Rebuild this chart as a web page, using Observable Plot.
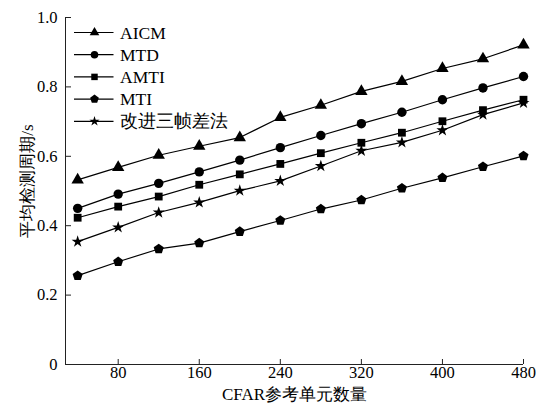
<!DOCTYPE html>
<html>
<head>
<meta charset="utf-8">
<script src="https://cdn.jsdelivr.net/npm/d3@7"></script>
<script src="https://cdn.jsdelivr.net/npm/@observablehq/plot@0.6"></script>
<style>
  html, body { margin: 0; padding: 0; background: #fff; }
  svg text { font-family: "Liberation Serif", "Times New Roman", serif; }
</style>
</head>
<body>
<div id="chart"></div>
<script>
// ---- data ----
const xValues = [40, 80, 120, 160, 200, 240, 280, 320, 360, 400, 440, 480];
const aicm     = [0.532, 0.568, 0.603, 0.629, 0.654, 0.712, 0.747, 0.787, 0.816, 0.853, 0.881, 0.921];
const mtd      = [0.450, 0.491, 0.522, 0.555, 0.589, 0.625, 0.660, 0.694, 0.727, 0.763, 0.797, 0.830];
const amti     = [0.423, 0.455, 0.484, 0.518, 0.548, 0.578, 0.609, 0.639, 0.668, 0.701, 0.733, 0.763];
const mti      = [0.256, 0.296, 0.333, 0.350, 0.383, 0.415, 0.448, 0.474, 0.508, 0.538, 0.570, 0.601];
const improved = [0.354, 0.395, 0.438, 0.467, 0.501, 0.529, 0.572, 0.616, 0.640, 0.675, 0.720, 0.754];
const seriesNames = ["AICM", "MTD", "AMTI", "MTI", "改进三帧差法"];
const xTicks = [80, 160, 240, 320, 400, 480];
const yTicks = [0, 0.2, 0.4, 0.6, 0.8, 1.0];
const xLabel = "CFAR参考单元数量";
const yLabel = "平均检测周期/s";

// custom pentagon symbol
const symbolPentagon = {
  draw(context, size) {
    const R = Math.sqrt(size / 2.3776);
    for (let k = 0; k < 5; k++) {
      const a = -Math.PI / 2 + k * 2 * Math.PI / 5;
      const px = R * Math.cos(a), py = R * Math.sin(a);
      if (k === 0) context.moveTo(px, py); else context.lineTo(px, py);
    }
    context.closePath();
  }
};

const series = [
  {name: seriesNames[0], values: aicm, symbol: d3.symbolTriangle, r: 4.6, lsize: 40},
  {name: seriesNames[1], values: mtd, symbol: d3.symbolCircle, r: 4.7, lsize: 45},
  {name: seriesNames[2], values: amti, symbol: d3.symbolSquare, r: 4.4, lsize: 42},
  {name: seriesNames[3], values: mti, symbol: symbolPentagon, r: 4.6, lsize: 50},
  {name: seriesNames[4], values: improved, symbol: d3.symbolStar, r: 3.8, lsize: 32}
];

const tables = series.map(s => xValues.map((x, i) => ({x, y: s.values[i], name: s.name})));

const fontFamily = "'Liberation Serif', 'Times New Roman', serif";

function legendMark(index, scales, values, dims) {
  const g = d3.create("svg:g");
  const x0 = 74, x1 = 113.5, xm = 94.5, xt = 120;
  const rowY = [32.5, 54.7, 76.9, 99.1, 121.3];
  series.forEach((s, i) => {
    const y = rowY[i];
    g.append("line").attr("x1", x0).attr("x2", x1).attr("y1", y).attr("y2", y)
      .attr("stroke", "#000").attr("stroke-width", 1.2);
    g.append("path").attr("transform", `translate(${xm},${y})`)
      .attr("d", d3.symbol().type(s.symbol).size(s.lsize)()).attr("fill", "#000");
    g.append("text").attr("x", xt).attr("y", y).attr("dy", "0.35em")
      .attr("text-anchor", "start")
      .attr("font-size", 17.5).attr("fill", "#000")
      .text(s.name);
  });
  return g.node();
}

const marks = [];
marks.push(Plot.ruleX([28], {stroke: "#222", strokeWidth: 1}));
marks.push(Plot.ruleY([0], {stroke: "#222", strokeWidth: 1}));
marks.push(Plot.axisX({ticks: xTicks, tickSize: -5, tickPadding: 7, label: null, stroke: "#222", fontSize: 16.5}));
marks.push(Plot.axisY({ticks: yTicks, tickSize: -6, tickPadding: 14, label: null, stroke: "#222", fontSize: 16.5,
  tickFormat: d => d === 0 ? "0" : d.toFixed(1)}));
series.forEach((s, i) => {
  marks.push(Plot.line(tables[i], {x: "x", y: "y", stroke: "#000", strokeWidth: 1.2}));
  marks.push(Plot.dot(tables[i], {x: "x", y: "y", symbol: () => s.symbol, r: s.r, fill: "#000", stroke: "none"}));
});
marks.push(Plot.text([xLabel], {frameAnchor: "bottom", dy: 30, textAnchor: "middle", lineAnchor: "middle", fontSize: 17, fill: "#000"}));
marks.push(Plot.text([yLabel], {frameAnchor: "left", dx: -38, dy: -10, rotate: -90, textAnchor: "middle", lineAnchor: "middle", fontSize: 17, fill: "#000"}));
marks.push(legendMark);

const chart = Plot.plot({
  width: 538,
  height: 412,
  marginLeft: 65,
  marginRight: 15,
  marginTop: 17,
  marginBottom: 48,
  style: {fontFamily, fontSize: "17px", color: "#000", background: "#fff"},
  x: {domain: [28, 480]},
  y: {domain: [0, 1]},
  symbol: {type: "identity"},
  marks
});
document.getElementById("chart").appendChild(chart);
</script>
</body>
</html>
